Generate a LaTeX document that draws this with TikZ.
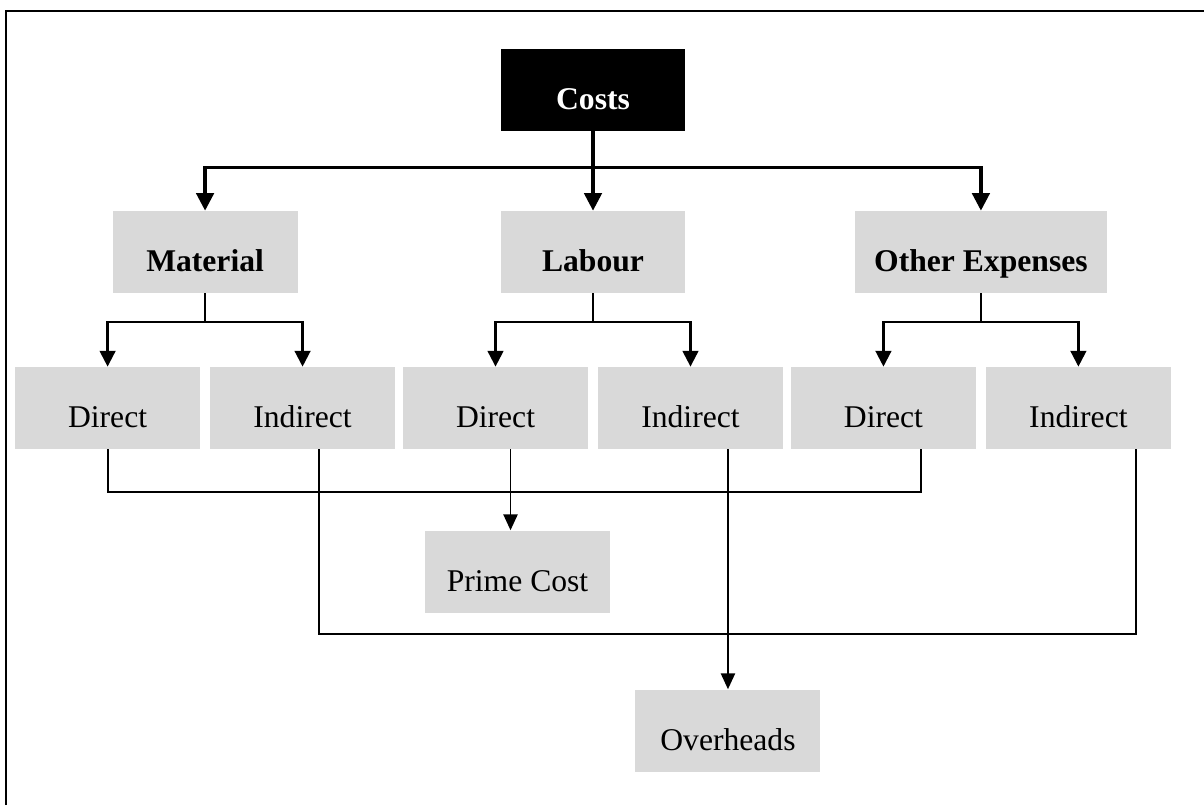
\documentclass[tikz,border=0pt]{standalone}
\usepackage{fontspec}
\setmainfont{Liberation Serif}
\usetikzlibrary{positioning,arrows.meta,trees}

\definecolor{boxgray}{RGB}{217,217,217}

\tikzset {
    style top/.style={
        fill=black,
        draw=none,
        text=white,
        font=\bfseries\fontsize{18}{21}\selectfont,
        rectangle, % black head box
        minimum width=3.7cm,
        minimum height=1.64cm,
        inner sep=0pt,
        text height=0.8cm,
        text depth=0pt,
    },
    style head/.style={
        fill=boxgray,
        draw=none,
        font=\bfseries\fontsize{18}{21}\selectfont,
        rectangle, % grey box, bold text
        minimum width=3.7cm,
        minimum height=1.64cm,
        inner sep=0pt,
        text height=0.8cm,
        text depth=0pt,
    },
    style leaf/.style={
        fill=boxgray,
        draw=none,
        font=\fontsize{18}{21}\selectfont,
        rectangle, % grey box, plain text
        minimum width=3.7cm,
        minimum height=1.64cm,
        inner sep=0pt,
        text height=0.8cm,
        text depth=0pt,
    },
    style link/.style={
        draw=black,
        line width=1.1pt,
    },
}

\begin{document}
\begin{tikzpicture}
        [x=0.02cm, y=-0.02cm, grow=down,
        edge from parent/.style={draw=black, line width=1.8pt, -{Triangle[length=10pt,width=10pt]}},
        edge from parent path={(\tikzparentnode.south) -- ++(0,-0.72cm) -| (\tikzchildnode.north)},
        level 1/.style={sibling distance=7.76cm, level distance=3.24cm},
        level 2/.style={sibling distance=3.9cm, level distance=3.12cm,
            edge from parent/.style={draw=black, line width=1.25pt, -{Triangle[length=9pt,width=9pt]}},
            edge from parent path={(\tikzparentnode.south) -- ++(0,-0.58cm) -| (\tikzchildnode.north)}}]

        \useasboundingbox (0,0) rectangle (1204,805);
        \draw[line width=1.3pt] (6,805) -- (6,11) -- (1204,11);

        \node[style top] (costs) at (593,90) {Costs}

        child {
            node[style head] (mat) {Material}
            child { node[style leaf] (md) {Direct} }
            child { node[style leaf] (mi) {Indirect} }
        }
        child {
            node[style head] (lab) {Labour}
            child { node[style leaf] (ld) {Direct} }
            child { node[style leaf] (li) {Indirect} }
        }
        child {
            node[style head, minimum width=5.04cm] (oth) {Other Expenses}
            child { node[style leaf] (od) {Direct} }
            child { node[style leaf] (oi) {Indirect} }
        };

        % totals
        \coordinate (ldout) at ([xshift=0.3cm]ld.south);
        \coordinate (liout) at ([xshift=0.75cm]li.south);
        \node[style leaf, below=1.62cm of ldout, xshift=0.14cm] (prime) {Prime Cost};
        \node[style leaf, below=4.8cm of liout] (over) {Overheads};

        \draw[style link] (md.south) -- ++(0,-0.86cm) -| ([xshift=0.75cm]od.south);
        \draw[style link] ([xshift=0.33cm]mi.south) -- ++(0,-3.7cm) -| ([xshift=1.15cm]oi.south);
        \draw[style link, -{Triangle[length=9pt,width=8pt]}] (ldout) -- (ldout |- prime.north);
        \draw[style link, -{Triangle[length=9pt,width=8pt]}] (liout) -- (over.north);

    \end{tikzpicture}
\end{document}
